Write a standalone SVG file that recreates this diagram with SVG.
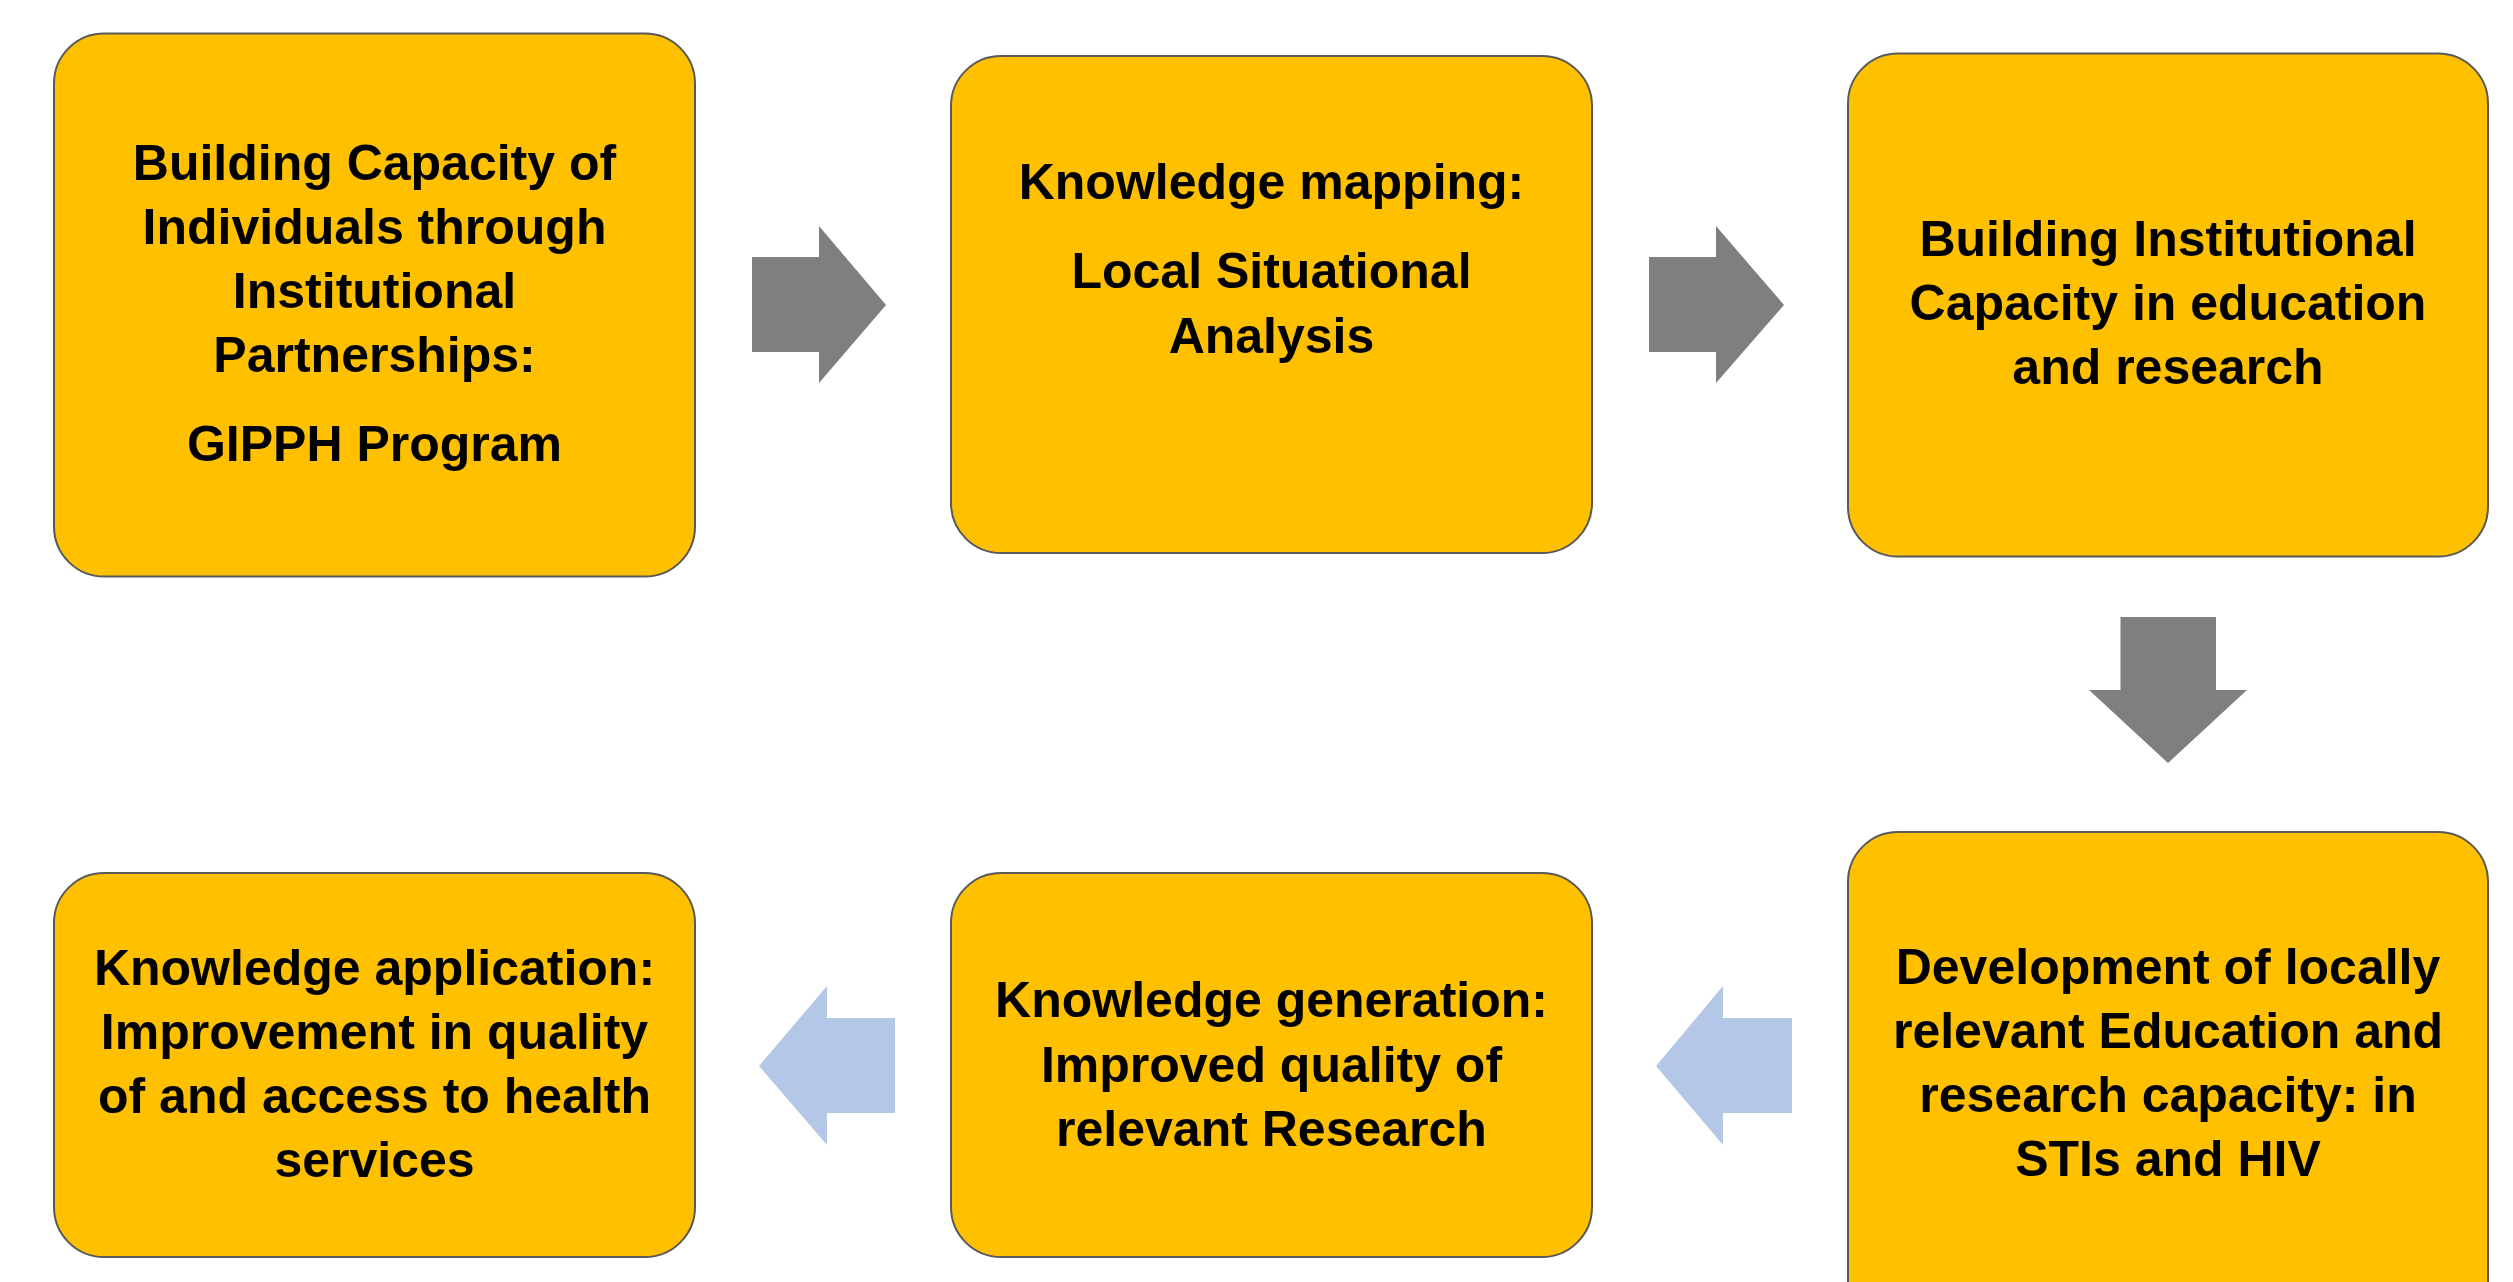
<svg xmlns="http://www.w3.org/2000/svg" width="2513" height="1282" viewBox="0 0 2513 1282">
  <style>
    .box { fill: #FFC000; stroke: #595959; stroke-width: 2; }
    .lbl { font-family: "Liberation Sans", Arial, sans-serif; font-weight: bold; font-size: 50px; fill: #000000; text-anchor: middle; }
    .fwd { fill: #7F7F7F; }
    .back { fill: #B4C7E7; }
  </style>
  <rect width="2513" height="1282" fill="#FFFFFF"/>

  <!-- process steps -->
  <g id="step-individuals">
    <rect class="box" x="54" y="33.5" width="641" height="543" rx="50" ry="50"/>
    <text class="lbl" x="374.5" y="180">Building Capacity of</text>
    <text class="lbl" x="374.5" y="244">Individuals through</text>
    <text class="lbl" x="374.5" y="308">Institutional</text>
    <text class="lbl" x="374.5" y="372">Partnerships:</text>
    <text class="lbl" x="374.5" y="461">GIPPH Program</text>
  </g>

  <g id="step-mapping">
    <rect class="box" x="951" y="56" width="641" height="497" rx="50" ry="50"/>
    <text class="lbl" x="1271.5" y="199">Knowledge mapping:</text>
    <text class="lbl" x="1271.5" y="288">Local Situational</text>
    <text class="lbl" x="1271.5" y="353">Analysis</text>
  </g>

  <g id="step-institutional">
    <rect class="box" x="1848" y="53.5" width="640" height="503" rx="50" ry="50"/>
    <text class="lbl" x="2168" y="256">Building Institutional</text>
    <text class="lbl" x="2168" y="320">Capacity in education</text>
    <text class="lbl" x="2168" y="384">and research</text>
  </g>

  <g id="step-development">
    <rect class="box" x="1848" y="832" width="640" height="503" rx="50" ry="50"/>
    <text class="lbl" x="2168" y="984">Development of locally</text>
    <text class="lbl" x="2168" y="1048">relevant Education and</text>
    <text class="lbl" x="2168" y="1112">research capacity: in</text>
    <text class="lbl" x="2168" y="1176">STIs and HIV</text>
  </g>

  <g id="step-generation">
    <rect class="box" x="951" y="873" width="641" height="384" rx="50" ry="50"/>
    <text class="lbl" x="1271.5" y="1017">Knowledge generation:</text>
    <text class="lbl" x="1271.5" y="1082">Improved quality of</text>
    <text class="lbl" x="1271.5" y="1146">relevant Research</text>
  </g>

  <g id="step-application">
    <rect class="box" x="54" y="873" width="641" height="384" rx="50" ry="50"/>
    <text class="lbl" x="374.5" y="985">Knowledge application:</text>
    <text class="lbl" x="374.5" y="1049">Improvement in quality</text>
    <text class="lbl" x="374.5" y="1113">of and access to health</text>
    <text class="lbl" x="374.5" y="1177">services</text>
  </g>

  <!-- block arrows between steps -->
  <g id="connectors">
    <polygon class="fwd" points="752,257 819,257 819,226 886,305 819,383 819,352 752,352"/>
    <polygon class="fwd" points="1649,257 1716,257 1716,226 1784,305 1716,383 1716,352 1649,352"/>
    <polygon class="fwd" points="2120.5,617 2216,617 2216,690 2247,690 2168,763 2089,690 2120.5,690"/>
    <polygon class="back" points="1792,1018 1723,1018 1723,986 1656,1066 1723,1145 1723,1113 1792,1113"/>
    <polygon class="back" points="895,1018 827,1018 827,986 759,1066 827,1145 827,1113 895,1113"/>
  </g>
</svg>
